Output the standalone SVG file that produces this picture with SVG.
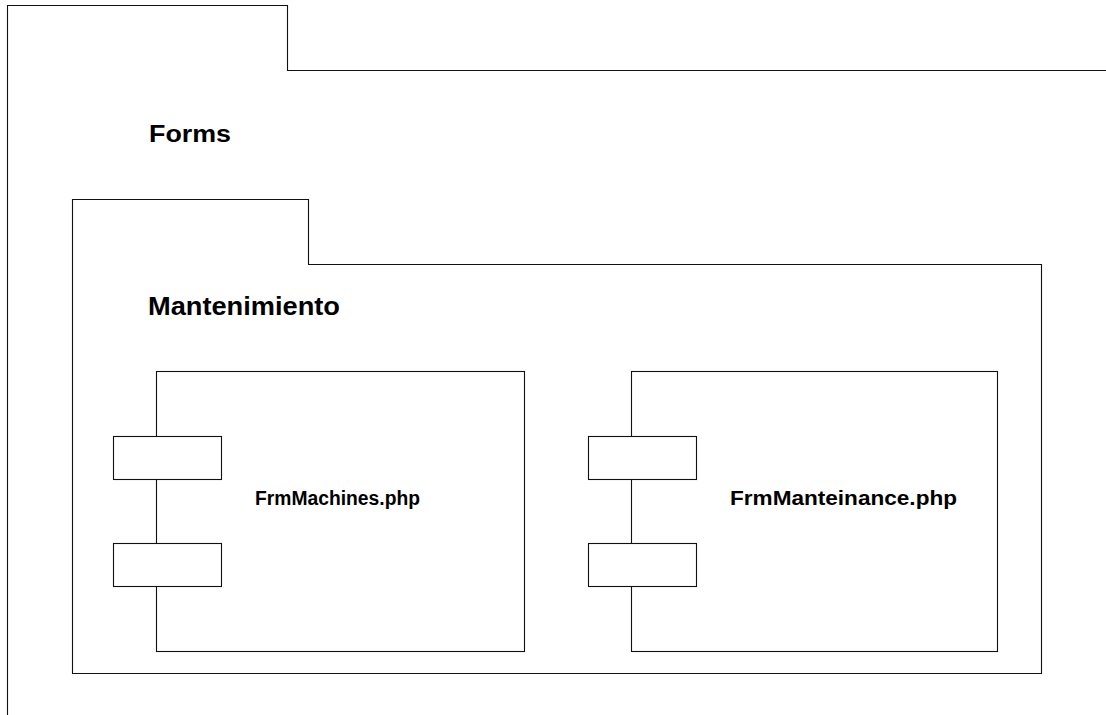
<svg xmlns="http://www.w3.org/2000/svg" width="1106" height="715" viewBox="0 0 1106 715">
<style>
.ln{fill:none;stroke:#111;stroke-width:1.1}
.box{fill:#fff;stroke:#111;stroke-width:1.1}
.t{font-family:"Liberation Sans",Arial,sans-serif;font-weight:bold;fill:#000}
</style>
<rect width="1106" height="715" fill="#fff"/>
<g id="pkg-forms">
<path class="ln" d="M7.5,720 V5.5 H287.5 V70.5 H1110"/>
<text class="t" x="149" y="142" font-size="23" textLength="82" lengthAdjust="spacingAndGlyphs">Forms</text>
</g>
<g id="pkg-mantenimiento">
<path class="ln" d="M72.5,673.5 V199.5 H308.5 V264.5 H1041.5 V673.5 Z"/>
<text class="t" x="148" y="315" font-size="25" textLength="192" lengthAdjust="spacingAndGlyphs">Mantenimiento</text>
</g>
<g id="comp-frmmachines">
<rect class="box" x="156.5" y="371.5" width="368" height="280"/>
<rect class="box" x="113.5" y="436.5" width="108" height="43"/>
<rect class="box" x="113.5" y="543.5" width="108" height="43"/>
<text class="t" x="255" y="505" font-size="20" textLength="165" lengthAdjust="spacingAndGlyphs">FrmMachines.php</text>
</g>
<g id="comp-frmmanteinance">
<rect class="box" x="631.5" y="371.5" width="366" height="280"/>
<rect class="box" x="588.5" y="436.5" width="108" height="43"/>
<rect class="box" x="588.5" y="543.5" width="108" height="43"/>
<text class="t" x="730" y="505" font-size="20" textLength="227" lengthAdjust="spacingAndGlyphs">FrmManteinance.php</text>
</g>
<g id="connectors"></g>
</svg>
